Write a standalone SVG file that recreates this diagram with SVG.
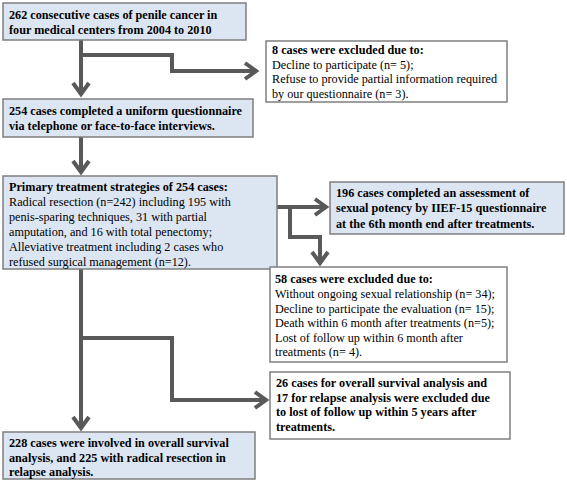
<svg xmlns="http://www.w3.org/2000/svg" width="567" height="481" viewBox="0 0 567 481">
<defs>
<style>
.bx{stroke:#7f7f7f;stroke-width:1.5}
.blue{fill:#dce6f2}
.white{fill:#ffffff}
text{font-family:"Liberation Serif","Times New Roman",serif;font-size:12.2px;fill:#000}
.b{font-weight:bold}
.c{fill:none;stroke:#595959;stroke-width:4;stroke-linejoin:miter}
</style>
<marker id="ah" viewBox="-16 -10 20 20" markerWidth="20" markerHeight="20" refX="0" refY="0" orient="auto" markerUnits="userSpaceOnUse" overflow="visible">
<path d="M-12,-8 L-1,0 L-12,8" fill="none" stroke="#595959" stroke-width="4"/>
</marker>
</defs>
<rect width="567" height="481" fill="#ffffff"/>
<g id="connectors">
<path class="c" d="M81,40 V95" marker-end="url(#ah)"/>
<path class="c" d="M81,55 H172 V71 H257" marker-end="url(#ah)"/>
<path class="c" d="M81,137 V173" marker-end="url(#ah)"/>
<path class="c" d="M277,207 H327" marker-end="url(#ah)"/>
<path class="c" d="M290,207 V237 H320 V264" marker-end="url(#ah)"/>
<path class="c" d="M81,269 V429" marker-end="url(#ah)"/>
<path class="c" d="M81,338 H172 V400 H267" marker-end="url(#ah)"/>
</g>
<g id="n1">
<rect class="bx blue" x="3" y="3" width="243" height="37"/>
<text class="b" x="9" y="19">262 consecutive cases of penile cancer in</text>
<text class="b" x="9" y="34">four medical centers from 2004 to 2010</text>
</g>
<g id="n2">
<rect class="bx white" x="266" y="41" width="241" height="61"/>
<text class="b" x="272" y="54">8 cases were excluded due to:</text>
<text x="272" y="68.5">Decline to participate (n= 5);</text>
<text x="272" y="83">Refuse to provide partial information required</text>
<text x="272" y="97.5">by our questionnaire (n= 3).</text>
</g>
<g id="n3">
<rect class="bx blue" x="3" y="99" width="250" height="38"/>
<text class="b" x="9" y="115">254 cases completed a uniform questionnaire</text>
<text class="b" x="9" y="130">via telephone or face-to-face interviews.</text>
</g>
<g id="n4">
<rect class="bx blue" x="3" y="176" width="274" height="93"/>
<text class="b" x="9" y="191">Primary treatment strategies of 254 cases:</text>
<text x="9" y="206">Radical resection (n=242) including 195 with</text>
<text x="9" y="221">penis-sparing techniques, 31 with partial</text>
<text x="9" y="236">amputation, and 16 with total penectomy;</text>
<text x="9" y="251">Alleviative treatment including 2 cases who</text>
<text x="9" y="265.5">refused surgical management (n=12).</text>
</g>
<g id="n5">
<rect class="bx blue" x="330" y="182" width="234" height="52"/>
<text class="b" x="336" y="197">196 cases completed an assessment of</text>
<text class="b" x="336" y="212">sexual potency by IIEF-15 questionnaire</text>
<text class="b" x="336" y="227.5">at the 6th month end after treatments.</text>
</g>
<g id="n6">
<rect class="bx white" x="270" y="267" width="237" height="95"/>
<text class="b" x="275" y="283">58 cases were excluded due to:</text>
<text x="275" y="298">Without ongoing sexual relationship (n= 34);</text>
<text x="275" y="312.5">Decline to participate the evaluation (n= 15);</text>
<text x="275" y="327">Death within 6 month after treatments (n=5);</text>
<text x="275" y="341.5">Lost of follow up within 6 month after</text>
<text x="275" y="356">treatments (n= 4).</text>
</g>
<g id="n7">
<rect class="bx white" x="270" y="372" width="240" height="67"/>
<text class="b" x="276" y="387">26 cases for overall survival analysis and</text>
<text class="b" x="276" y="401.5">17 for relapse analysis were excluded due</text>
<text class="b" x="276" y="416">to lost of follow up within 5 years after</text>
<text class="b" x="276" y="430.5">treatments.</text>
</g>
<g id="n8">
<rect class="bx blue" x="3" y="432" width="252" height="47"/>
<text class="b" x="9" y="447">228 cases were involved in overall survival</text>
<text class="b" x="9" y="462">analysis, and 225 with radical resection in</text>
<text class="b" x="9" y="476">relapse analysis.</text>
</g>
</svg>
